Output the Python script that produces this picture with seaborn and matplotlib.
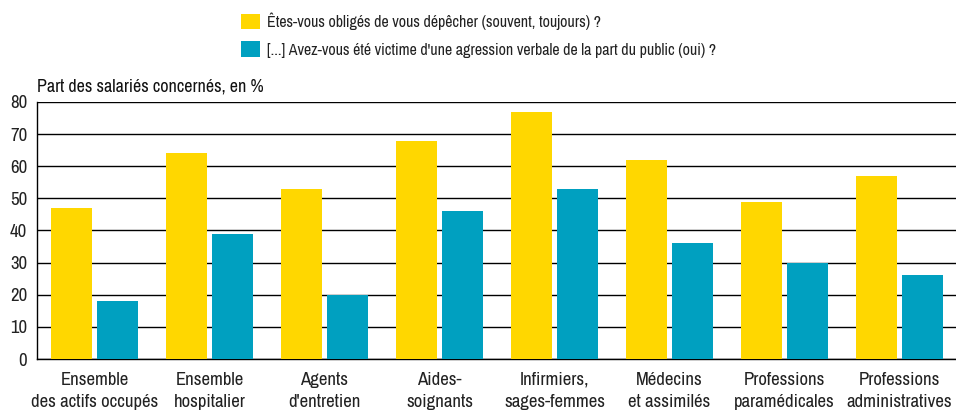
import matplotlib
matplotlib.use("Agg")
import matplotlib.pyplot as plt
import seaborn as sns
import pandas as pd
import numpy as np
from matplotlib.patches import Patch

categories = ["Ensemble\ndes actifs occupés", "Ensemble\nhospitalier", "Agents\nd'entretien",
              "Aides-\nsoignants", "Infirmiers,\nsages-femmes", "Médecins\net assimilés",
              "Professions\nparamédicales", "Professions\nadministratives"]
series_names = ["Êtes-vous obligés de vous dépêcher (souvent, toujours) ?",
                "[...] Avez-vous été victime d'une agression verbale de la part du public (oui) ?"]
hurry = [47, 64, 53, 68, 77, 62, 49, 57]
verbal = [18, 39, 20, 46, 53, 36, 30, 26]
yticks = [0, 10, 20, 30, 40, 50, 60, 70, 80]
colors = ["#FFD700", "#00A0C0"]

df = pd.DataFrame({
    "cat": categories * 2,
    "serie": [series_names[0]] * len(categories) + [series_names[1]] * len(categories),
    "val": hurry + verbal,
})

sns.set_theme(style="white")
plt.rcParams["font.family"] = ["Archivo Narrow", "DejaVu Sans"]

fig = plt.figure(figsize=(9.56, 4.11), dpi=100)
ax = fig.add_axes([37/956, 1 - 359/411, 920/956, (359-102)/411])
sns.barplot(data=df, x="cat", y="val", hue="serie", palette=colors, order=categories,
            hue_order=series_names, width=0.8, gap=0.09, saturation=1, linewidth=0,
            ax=ax, legend=False, zorder=3)

ax.set_ylim(0, 80)
ax.set_xlim(-0.5, len(categories) - 0.5)
ax.set_yticks(yticks)
ax.yaxis.grid(True, color="black", linewidth=1.0, zorder=0)
ax.set_axisbelow(True)
ax.set_xlabel("")
ax.set_ylabel("")
for s in ["top", "right"]:
    ax.spines[s].set_visible(False)
for s in ["left", "bottom"]:
    ax.spines[s].set_color("black")
    ax.spines[s].set_linewidth(1.0)
ax.tick_params(axis="y", labelsize=13.5, length=0, pad=7, colors="#222222")
ax.tick_params(axis="x", which="major", labelsize=13.5, length=0, pad=9, colors="#222222")
for lbl in ax.get_xticklabels():
    lbl.set_linespacing(1.5)
ax.set_xticks(np.arange(-0.5, len(categories), 1.0), minor=True)
ax.tick_params(axis="x", which="minor", length=6, width=1, color="black", direction="out")

fig.text(37/956, 1 - 86/411, "Part des salariés concernés, en %", fontsize=13,
         ha="left", va="center", color="#111111")

handles = [Patch(facecolor=c, edgecolor="none") for c in colors]
fig.legend(handles, series_names, loc="upper left", bbox_to_anchor=(227/956, 1 + 2/411),
           frameon=False, fontsize=11.5, handlelength=1.15, handleheight=1.15,
           handletextpad=0.45, labelspacing=0.72, labelcolor="#222222")

fig.savefig("out.png", dpi=100)
